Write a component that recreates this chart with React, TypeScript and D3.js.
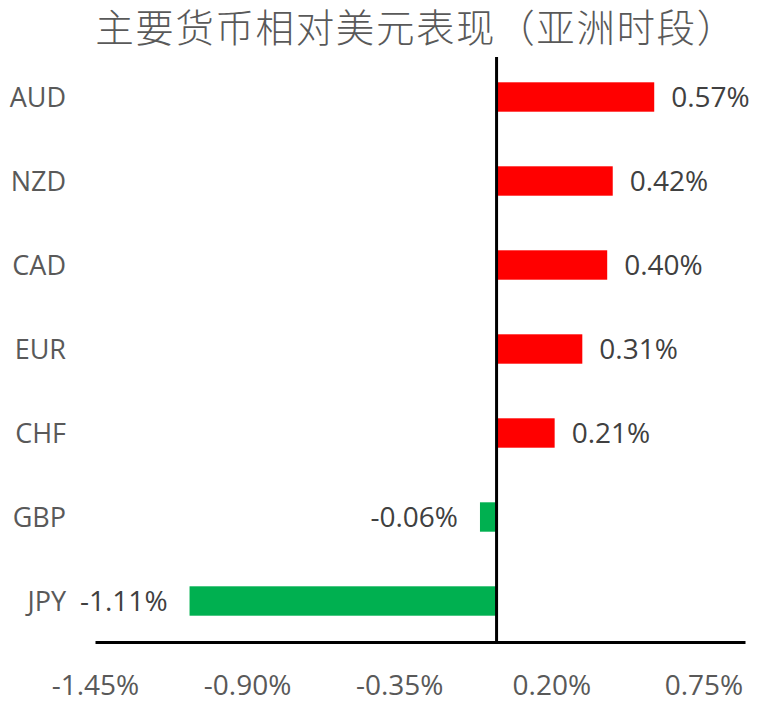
import React from 'react';
import * as d3 from 'd3';

// Currency performance vs USD (Asian session), in percent
const currencies = ['AUD', 'NZD', 'CAD', 'EUR', 'CHF', 'GBP', 'JPY'];
const changes = [0.57, 0.42, 0.4, 0.31, 0.21, -0.06, -1.11];
const tickValues = [-1.45, -0.9, -0.35, 0.2, 0.75];
const title = '主要货币相对美元表现（亚洲时段）';

const width = 766;
const height = 708;
const latin = '"Open Sans", "Noto Sans", sans-serif';

export default function App() {
  const x = d3.scaleLinear().domain([-1.45, 0.9]).range([95.5, 745.5]);
  const y = d3
    .scaleBand<string>()
    .domain(currencies)
    .range([55, 643])
    .paddingInner(0.65)
    .paddingOuter(0.325);

  const x0 = x(0);
  const axisY = 642.5;
  const fmt = (v: number) => `${v.toFixed(2)}%`;

  return (
    <svg
      width={width}
      height={height}
      style={{ position: 'absolute', left: 0, top: 0, background: '#fff' }}
    >
      <text
        x={416}
        y={42}
        textAnchor="middle"
        fill="#595959"
        fontSize={38.5}
        fontWeight={300}
        letterSpacing={1.6}
        fontFamily='"Noto Sans CJK SC", sans-serif'
      >
        {title}
      </text>

      {/* bars */}
      {currencies.map((c, i) => {
        const v = changes[i];
        const bx = Math.min(x(v), x0);
        return (
          <rect
            key={c}
            x={bx}
            y={y(c)}
            width={Math.abs(x(v) - x0)}
            height={y.bandwidth()}
            fill={v >= 0 ? '#ff0000' : '#00b050'}
          />
        );
      })}

      {/* value labels */}
      {currencies.map((c, i) => {
        const v = changes[i];
        const cy = (y(c) ?? 0) + y.bandwidth() / 2;
        const pos = v >= 0;
        return (
          <text
            key={c}
            x={pos ? x(v) + 17 : x(v) - 22}
            y={cy}
            dy="0.36em"
            textAnchor={pos ? 'start' : 'end'}
            fill="#404040"
            fontSize={28}
            fontFamily={latin}
          >
            {fmt(v)}
          </text>
        );
      })}

      {/* category labels */}
      {currencies.map((c) => (
        <text
          key={c}
          x={66}
          y={(y(c) ?? 0) + y.bandwidth() / 2}
          dy="0.36em"
          textAnchor="end"
          fill="#595959"
          fontSize={27}
          fontFamily={latin}
        >
          {c}
        </text>
      ))}

      {/* zero line and x axis */}
      <line x1={x0} x2={x0} y1={57} y2={axisY} stroke="#000" strokeWidth={3} />
      <line x1={x(-1.45)} x2={x(0.9)} y1={axisY} y2={axisY} stroke="#000" strokeWidth={3} />

      {tickValues.map((t) => (
        <text
          key={t}
          x={x(t)}
          y={695}
          textAnchor="middle"
          fill="#595959"
          fontSize={28}
          fontFamily={latin}
        >
          {fmt(t)}
        </text>
      ))}
    </svg>
  );
}
